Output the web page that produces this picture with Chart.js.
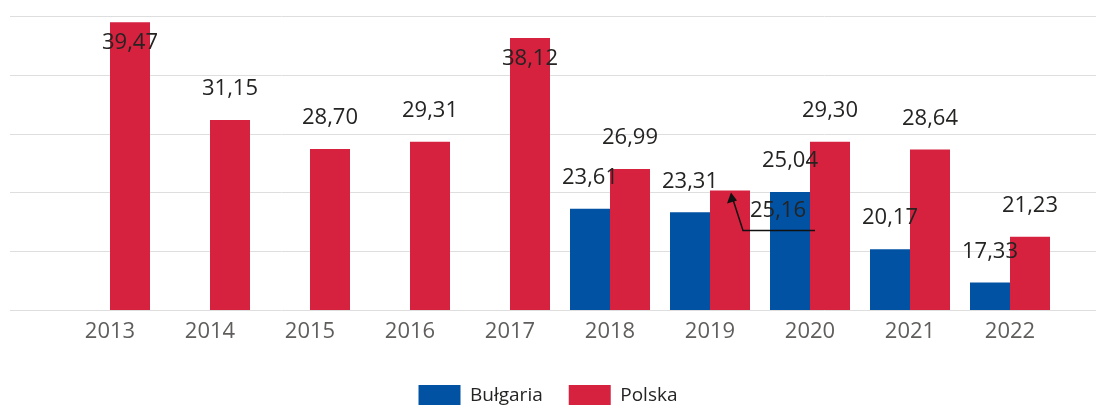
<!DOCTYPE html>
<html>
<head>
<meta charset="utf-8">
<script src="https://cdn.jsdelivr.net/npm/chart.js@4/dist/chart.umd.min.js"></script>
<style>
  html, body { margin: 0; padding: 0; background: #fff; overflow: hidden; }
  #wrap { position: relative; width: 1096px; height: 417px; }
</style>
</head>
<body>
<div id="wrap"><canvas id="chart"></canvas></div>
<script>
const years = ["2013", "2014", "2015", "2016", "2017", "2018", "2019", "2020", "2021", "2022"];
const bulgaria = [null, null, null, null, null, 23.61, 23.31, 25.04, 20.17, 17.33];
const polska = [39.47, 31.15, 28.70, 29.31, 38.12, 26.99, 25.16, 29.30, 28.64, 21.23];

const blue = "#0252A3";
const red = "#D6213F";
const font = "'Open Sans', 'Noto Sans', sans-serif";

const fmt = v => v.toFixed(2).replace(".", ",");

// horizontal grid lines run across the whole width, like the original
const wideGrid = {
    id: "wideGrid",
    beforeDatasetsDraw(chart) {
        const ctx = chart.ctx;
        const y = chart.scales.y;
        ctx.save();
        ctx.strokeStyle = "#dedede";
        ctx.lineWidth = 1;
        y.ticks.forEach(t => {
            const py = Math.round(y.getPixelForValue(t.value)) + 0.5;
            ctx.beginPath();
            ctx.moveTo(10, py);
            ctx.lineTo(chart.width, py);
            ctx.stroke();
        });
        ctx.restore();
    }
};

const barLabels = {
    id: "barLabels",
    afterDatasetsDraw(chart) {
        const ctx = chart.ctx;
        ctx.save();
        ctx.font = "22px " + font;
        ctx.fillStyle = "#252423";
        ctx.textAlign = "center";
        ctx.textBaseline = "middle";
        chart.data.datasets.forEach((ds, di) => {
            const meta = chart.getDatasetMeta(di);
            meta.data.forEach((bar, i) => {
                const v = ds.data[i];
                if (v == null) return;
                const x = bar.x, top = bar.y;
                if (di === 1 && i === 6) {
                    // label moved aside with a pointer back to the bar
                    ctx.fillText(fmt(v), x + 48, top + 20);
                    ctx.strokeStyle = "#111";
                    ctx.lineWidth = 1.5;
                    ctx.beginPath();
                    ctx.moveTo(x + 85, top + 40);
                    ctx.lineTo(x + 13, top + 40);
                    ctx.lineTo(x + 2, top + 6);
                    ctx.stroke();
                    ctx.fillStyle = "#111";
                    ctx.beginPath();
                    ctx.moveTo(x + 1, top + 2);
                    ctx.lineTo(x - 3, top + 13);
                    ctx.lineTo(x + 7, top + 10);
                    ctx.closePath();
                    ctx.fill();
                    ctx.fillStyle = "#252423";
                    return;
                }
                const cy = top - 41 < 0 ? top + 21 : top - 31;
                ctx.fillText(fmt(v), x, cy);
            });
        });
        ctx.restore();
    }
};

const hiddenAxis = {
    grid: { display: false },
    border: { display: false },
    ticks: { display: false }
};

new Chart(document.getElementById("chart"), {
    type: "bar",
    data: {
        labels: years,
        datasets: [
            {
                label: "Bułgaria",
                data: bulgaria,
                backgroundColor: blue,
                categoryPercentage: 0.8,
                barPercentage: 1.0
            },
            {
                label: "Polska",
                data: polska,
                backgroundColor: red,
                categoryPercentage: 0.8,
                barPercentage: 1.0
            }
        ]
    },
    options: {
        responsive: true,
        maintainAspectRatio: false,
        animation: false,
        layout: {
            padding: { left: 0, right: 0, top: 16, bottom: 0 }
        },
        scales: {
            x: {
                grid: { display: false, drawTicks: false },
                border: { display: false },
                ticks: {
                    color: "#605E5C",
                    font: { family: font, size: 22 },
                    padding: 9
                },
                afterFit(scale) { scale.height = 49; }
            },
            y: {
                ...hiddenAxis,
                position: "left",
                min: 15,
                max: 40,
                ticks: { display: false, stepSize: 5 },
                afterFit(scale) { scale.width = 60; }
            },
            yRight: {
                ...hiddenAxis,
                type: "linear",
                position: "right",
                min: 15,
                max: 40,
                afterFit(scale) { scale.width = 36; }
            }
        },
        plugins: {
            legend: {
                position: "bottom",
                labels: {
                    boxWidth: 42,
                    boxHeight: 22,
                    padding: 26,
                    color: "#252423",
                    font: { family: font, size: 19 }
                }
            },
            tooltip: { enabled: false }
        }
    },
    plugins: [wideGrid, barLabels]
});
</script>
</body>
</html>
